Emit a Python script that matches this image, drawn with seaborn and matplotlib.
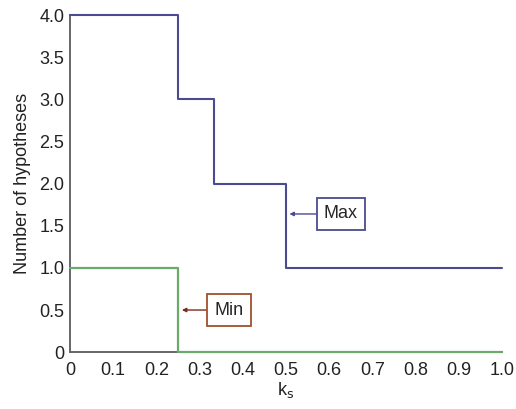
import matplotlib
matplotlib.use("Agg")
import matplotlib.pyplot as plt
import seaborn as sns
import pandas as pd

# step-function data (value holds until next breakpoint)
ks_max = [0.0, 0.25, 1/3, 0.5, 1.0]
n_max = [4, 3, 2, 1, 1]
ks_min = [0.0, 0.25, 1.0]
n_min = [1, 0, 0]

xticks = [0, 0.1, 0.2, 0.3, 0.4, 0.5, 0.6, 0.7, 0.8, 0.9, 1.0]
xlabels = ["0", "0.1", "0.2", "0.3", "0.4", "0.5", "0.6", "0.7", "0.8", "0.9", "1.0"]
yticks = [0, 0.5, 1.0, 1.5, 2.0, 2.5, 3.0, 3.5, 4.0]
ylabels = ["0", "0.5", "1.0", "1.5", "2.0", "2.5", "3.0", "3.5", "4.0"]

sns.set_theme(style="white")
plt.rcParams["font.family"] = ["Liberation Sans", "DejaVu Sans"]

FS = 13
fig = plt.figure(figsize=(5.16, 4.09), dpi=100)
ax = fig.add_axes([0.1357, 0.139, 0.837, 0.824])

df_max = pd.DataFrame({"ks": ks_max, "n": n_max})
df_min = pd.DataFrame({"ks": ks_min, "n": n_min})
sns.lineplot(data=df_min, x="ks", y="n", drawstyle="steps-post", color="#6aaa6a",
             linewidth=1.6, ax=ax, clip_on=False, zorder=4)
sns.lineplot(data=df_max, x="ks", y="n", drawstyle="steps-post", color="#4b4b8f",
             linewidth=1.5, ax=ax, clip_on=False, zorder=4)

ax.set_xlim(0, 1.0)
ax.set_ylim(0, 4.0)
ax.set_xticks(xticks)
ax.set_xticklabels(xlabels)
ax.set_yticks(yticks)
ax.set_yticklabels(ylabels)
ax.tick_params(direction="in", length=3, width=0.8, colors="#555555",
               labelcolor="#222222", labelsize=FS, pad=4)
ax.tick_params(axis="x", pad=7)
for s in ["top", "right"]:
    ax.spines[s].set_visible(False)
for s in ["left", "bottom"]:
    ax.spines[s].set_color("#666666")
    ax.spines[s].set_linewidth(1.4)

ax.set_xlabel(r"k$_\mathrm{s}$", fontsize=FS, color="#222222", labelpad=1)
ax.set_ylabel("Number of hypotheses", fontsize=FS, color="#222222", labelpad=6)

ax.annotate("Max", xy=(0.508, 1.64), xytext=(0.627, 1.64), fontsize=FS,
            ha="center", va="center",
            bbox=dict(boxstyle="square,pad=0.4", fc="white", ec="#4b4b8f", lw=1.3),
            arrowprops=dict(arrowstyle="-|>", color="#4b4b8f", lw=1.0,
                            mutation_scale=6, shrinkA=0, shrinkB=0))
ax.annotate("Min", xy=(0.259, 0.5), xytext=(0.368, 0.5), fontsize=FS,
            ha="center", va="center",
            bbox=dict(boxstyle="square,pad=0.4", fc="white", ec="#a0522d", lw=1.3),
            arrowprops=dict(arrowstyle="-|>", color="#7a2a1a", lw=1.0,
                            mutation_scale=6, shrinkA=0, shrinkB=0))

fig.savefig("out.png", dpi=100)
